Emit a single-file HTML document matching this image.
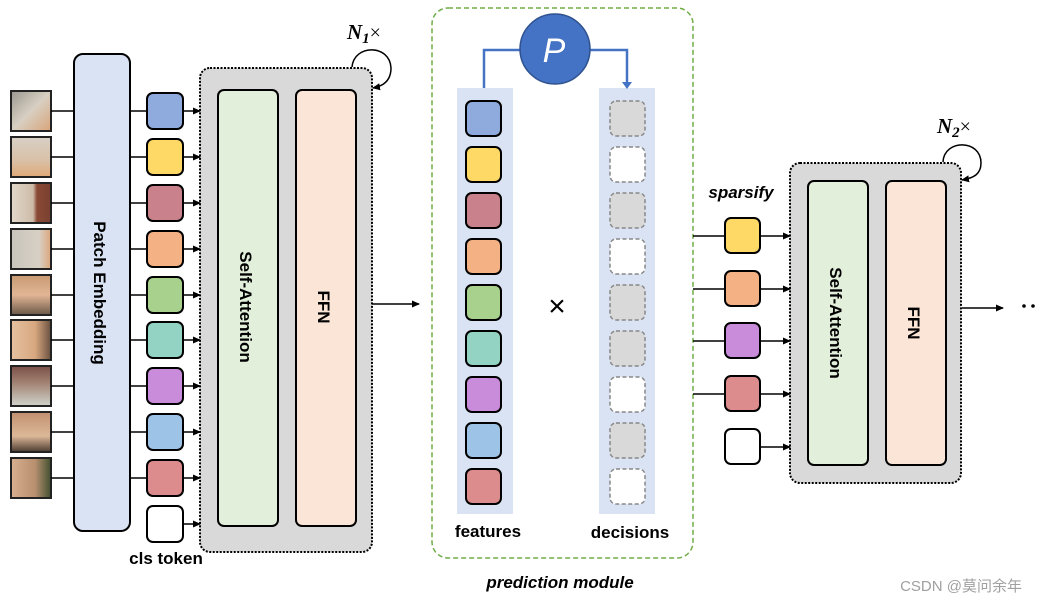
<!DOCTYPE html>
<html><head><meta charset="utf-8"><style>
html,body{margin:0;padding:0;background:#fff;}
svg{display:block;font-family:"Liberation Sans","Noto Sans CJK SC",sans-serif;}
</style></head><body>
<svg width="1037" height="599" viewBox="0 0 1037 599" xmlns="http://www.w3.org/2000/svg">
<defs>
<marker id="ah" markerWidth="8" markerHeight="8" refX="7" refY="4" orient="auto" markerUnits="userSpaceOnUse"><path d="M0,0.5 L8,4 L0,7.5 Z" fill="#000"/></marker>
<linearGradient id="g1" x1="0" y1="0" x2="1" y2="1"><stop offset="0" stop-color="#9a9890"/><stop offset="0.5" stop-color="#d8cfc2"/><stop offset="1" stop-color="#d9a47a"/></linearGradient>
<linearGradient id="g2" x1="0" y1="0" x2="0" y2="1"><stop offset="0" stop-color="#d8d0c6"/><stop offset="0.6" stop-color="#d9c0a6"/><stop offset="1" stop-color="#e0a878"/></linearGradient>
<linearGradient id="g3" x1="0" y1="0" x2="1" y2="0"><stop offset="0" stop-color="#e2d8ca"/><stop offset="0.55" stop-color="#cdbba8"/><stop offset="0.65" stop-color="#8a4a35"/><stop offset="1" stop-color="#7a4030"/></linearGradient>
<linearGradient id="g4" x1="0" y1="0" x2="1" y2="0"><stop offset="0" stop-color="#c8c4bc"/><stop offset="0.7" stop-color="#d8d0c4"/><stop offset="1" stop-color="#dba67c"/></linearGradient>
<linearGradient id="g5" x1="0" y1="0" x2="0" y2="1"><stop offset="0" stop-color="#c79a72"/><stop offset="0.5" stop-color="#e2b595"/><stop offset="1" stop-color="#6a5848"/></linearGradient>
<linearGradient id="g6" x1="0" y1="0" x2="1" y2="0"><stop offset="0" stop-color="#e4c0a0"/><stop offset="0.6" stop-color="#d8a880"/><stop offset="1" stop-color="#6a5040"/></linearGradient>
<linearGradient id="g7" x1="0" y1="0" x2="0" y2="1"><stop offset="0" stop-color="#7a5048"/><stop offset="0.4" stop-color="#a08070"/><stop offset="1" stop-color="#d0d4cc"/></linearGradient>
<linearGradient id="g8" x1="0" y1="0" x2="0" y2="1"><stop offset="0" stop-color="#c09070"/><stop offset="0.6" stop-color="#dcb898"/><stop offset="1" stop-color="#4a3a30"/></linearGradient>
<linearGradient id="g9" x1="0" y1="0" x2="1" y2="0"><stop offset="0" stop-color="#d8b090"/><stop offset="0.6" stop-color="#b89070"/><stop offset="1" stop-color="#405030"/></linearGradient>
</defs>

<g stroke="#222" stroke-width="2">
<rect x="11" y="91" width="40" height="40" fill="url(#g1)"/>
<rect x="11" y="137" width="40" height="40" fill="url(#g2)"/>
<rect x="11" y="183" width="40" height="40" fill="url(#g3)"/>
<rect x="11" y="229" width="40" height="40" fill="url(#g4)"/>
<rect x="11" y="275" width="40" height="40" fill="url(#g5)"/>
<rect x="11" y="320" width="40" height="40" fill="url(#g6)"/>
<rect x="11" y="366" width="40" height="40" fill="url(#g7)"/>
<rect x="11" y="412" width="40" height="40" fill="url(#g8)"/>
<rect x="11" y="458" width="40" height="40" fill="url(#g9)"/>
</g>
<g stroke="#000" stroke-width="1.5">
<line x1="51" y1="111" x2="74" y2="111"/><line x1="51" y1="157" x2="74" y2="157"/><line x1="51" y1="203" x2="74" y2="203"/>
<line x1="51" y1="249" x2="74" y2="249"/><line x1="51" y1="295" x2="74" y2="295"/><line x1="51" y1="340" x2="74" y2="340"/>
<line x1="51" y1="386" x2="74" y2="386"/><line x1="51" y1="432" x2="74" y2="432"/><line x1="51" y1="478" x2="74" y2="478"/>
</g>
<rect x="74" y="54" width="56" height="477" rx="9" fill="#dae3f3" stroke="#000" stroke-width="2"/>
<text transform="translate(94,293) rotate(90)" text-anchor="middle" font-size="17" font-weight="bold">Patch Embedding</text>

<rect x="200" y="68" width="172" height="484" rx="10" fill="#d9d9d9" stroke="#000" stroke-width="2" stroke-dasharray="2 1.5"/>
<rect x="218" y="90" width="60" height="436" rx="6" fill="#e2efda" stroke="#000" stroke-width="2"/>
<rect x="296" y="90" width="60" height="436" rx="6" fill="#fbe5d6" stroke="#000" stroke-width="2"/>
<text transform="translate(240,307) rotate(90)" text-anchor="middle" font-size="17" font-weight="bold">Self-Attention</text>
<text transform="translate(318,307) rotate(90)" text-anchor="middle" font-size="17" font-weight="bold">FFN</text>

<g stroke="#000" stroke-width="1.5">
<line x1="130" y1="111" x2="147" y2="111"/><line x1="130" y1="157" x2="147" y2="157"/><line x1="130" y1="203" x2="147" y2="203"/>
<line x1="130" y1="249" x2="147" y2="249"/><line x1="130" y1="295" x2="147" y2="295"/><line x1="130" y1="340" x2="147" y2="340"/>
<line x1="130" y1="386" x2="147" y2="386"/><line x1="130" y1="432" x2="147" y2="432"/><line x1="130" y1="478" x2="147" y2="478"/>
</g>
<g stroke="#000" stroke-width="2">
<rect x="147" y="93" width="36" height="36" rx="6" fill="#8faadc"/>
<rect x="147" y="139" width="36" height="36" rx="6" fill="#ffd966"/>
<rect x="147" y="185" width="36" height="36" rx="6" fill="#c9828c"/>
<rect x="147" y="231" width="36" height="36" rx="6" fill="#f4b183"/>
<rect x="147" y="277" width="36" height="36" rx="6" fill="#a9d18e"/>
<rect x="147" y="322" width="36" height="36" rx="6" fill="#93d3c4"/>
<rect x="147" y="368" width="36" height="36" rx="6" fill="#c98cdb"/>
<rect x="147" y="414" width="36" height="36" rx="6" fill="#9dc3e6"/>
<rect x="147" y="460" width="36" height="36" rx="6" fill="#dc8c8c"/>
<rect x="147" y="506" width="36" height="36" rx="6" fill="#fff"/>
</g>
<g stroke="#000" stroke-width="1.5" marker-end="url(#ah)">
<line x1="183" y1="111" x2="200" y2="111"/><line x1="183" y1="157" x2="200" y2="157"/><line x1="183" y1="203" x2="200" y2="203"/>
<line x1="183" y1="249" x2="200" y2="249"/><line x1="183" y1="295" x2="200" y2="295"/><line x1="183" y1="340" x2="200" y2="340"/>
<line x1="183" y1="386" x2="200" y2="386"/><line x1="183" y1="432" x2="200" y2="432"/><line x1="183" y1="478" x2="200" y2="478"/>
<line x1="183" y1="524" x2="200" y2="524"/>
</g>
<text x="166" y="564" text-anchor="middle" font-size="17" font-weight="bold">cls token</text>

<path d="M352,67 C354,44 390,44 391,68 C391,80 384,86 373,88" fill="none" stroke="#000" stroke-width="1.5" marker-end="url(#ah)"/>
<text x="347" y="39" font-family="Liberation Serif,serif" font-size="21" font-weight="bold" font-style="italic">N<tspan font-size="15" dy="4">1</tspan><tspan dy="-4" font-style="normal" font-weight="normal" font-size="20">×</tspan></text>

<line x1="372" y1="304" x2="419" y2="304" stroke="#000" stroke-width="1.5" marker-end="url(#ah)"/>

<rect x="432" y="8" width="261" height="550" rx="16" fill="none" stroke="#70ad47" stroke-width="1.5" stroke-dasharray="5 3"/>
<rect x="457" y="88" width="56" height="426" fill="#dae3f3"/>
<rect x="599" y="88" width="56" height="426" fill="#dae3f3"/>
<path d="M484,88 L484,50 L525,50" fill="none" stroke="#4472c4" stroke-width="2.5"/>
<path d="M585,50 L627,50 L627,84" fill="none" stroke="#4472c4" stroke-width="2.5"/>
<path d="M622,82 L632,82 L627,89 Z" fill="#4472c4"/>
<circle cx="555" cy="49" r="35" fill="#4472c4" stroke="#2f528f" stroke-width="1.5"/>
<text x="554" y="62" text-anchor="middle" font-size="34" fill="#fff" font-style="italic">P</text>

<g stroke="#000" stroke-width="2">
<rect x="466" y="101" width="35" height="35" rx="6" fill="#8faadc"/>
<rect x="466" y="147" width="35" height="35" rx="6" fill="#ffd966"/>
<rect x="466" y="193" width="35" height="35" rx="6" fill="#c9828c"/>
<rect x="466" y="239" width="35" height="35" rx="6" fill="#f4b183"/>
<rect x="466" y="285" width="35" height="35" rx="6" fill="#a9d18e"/>
<rect x="466" y="331" width="35" height="35" rx="6" fill="#93d3c4"/>
<rect x="466" y="377" width="35" height="35" rx="6" fill="#c98cdb"/>
<rect x="466" y="423" width="35" height="35" rx="6" fill="#9dc3e6"/>
<rect x="466" y="469" width="35" height="35" rx="6" fill="#dc8c8c"/>
</g>
<g stroke="#888" stroke-width="1.5" stroke-dasharray="4 2.5">
<rect x="610" y="101" width="35" height="35" rx="6" fill="#d9d9d9"/>
<rect x="610" y="147" width="35" height="35" rx="6" fill="#fff"/>
<rect x="610" y="193" width="35" height="35" rx="6" fill="#d9d9d9"/>
<rect x="610" y="239" width="35" height="35" rx="6" fill="#fff"/>
<rect x="610" y="285" width="35" height="35" rx="6" fill="#d9d9d9"/>
<rect x="610" y="331" width="35" height="35" rx="6" fill="#d9d9d9"/>
<rect x="610" y="377" width="35" height="35" rx="6" fill="#fff"/>
<rect x="610" y="423" width="35" height="35" rx="6" fill="#d9d9d9"/>
<rect x="610" y="469" width="35" height="35" rx="6" fill="#fff"/>
</g>
<text x="557" y="316" text-anchor="middle" font-size="30">×</text>
<text x="488" y="537" text-anchor="middle" font-size="17" font-weight="bold">features</text>
<text x="630" y="538" text-anchor="middle" font-size="17" font-weight="bold">decisions</text>
<text x="560" y="588" text-anchor="middle" font-size="17" font-weight="bold" font-style="italic">prediction module</text>

<text x="741" y="198" text-anchor="middle" font-size="17" font-weight="bold" font-style="italic">sparsify</text>
<g stroke="#000" stroke-width="1.5">
<line x1="693" y1="236" x2="725" y2="236"/><line x1="693" y1="289" x2="725" y2="289"/>
<line x1="693" y1="341" x2="725" y2="341"/><line x1="693" y1="394" x2="725" y2="394"/>
</g>
<rect x="790" y="163" width="171" height="320" rx="10" fill="#d9d9d9" stroke="#000" stroke-width="2" stroke-dasharray="2 1.5"/>
<rect x="808" y="181" width="60" height="284" rx="6" fill="#e2efda" stroke="#000" stroke-width="2"/>
<rect x="886" y="181" width="60" height="284" rx="6" fill="#fbe5d6" stroke="#000" stroke-width="2"/>
<text transform="translate(830,323) rotate(90)" text-anchor="middle" font-size="17" font-weight="bold">Self-Attention</text>
<text transform="translate(908,323) rotate(90)" text-anchor="middle" font-size="17" font-weight="bold">FFN</text>
<g stroke="#000" stroke-width="2">
<rect x="725" y="218" width="35" height="35" rx="6" fill="#ffd966"/>
<rect x="725" y="271" width="35" height="35" rx="6" fill="#f4b183"/>
<rect x="725" y="323" width="35" height="35" rx="6" fill="#c98cdb"/>
<rect x="725" y="376" width="35" height="35" rx="6" fill="#dc8c8c"/>
<rect x="725" y="429" width="35" height="35" rx="6" fill="#fff"/>
</g>
<g stroke="#000" stroke-width="1.5" marker-end="url(#ah)">
<line x1="760" y1="236" x2="790" y2="236"/><line x1="760" y1="289" x2="790" y2="289"/>
<line x1="760" y1="341" x2="790" y2="341"/><line x1="760" y1="394" x2="790" y2="394"/>
<line x1="760" y1="447" x2="790" y2="447"/>
</g>
<path d="M943,162 C944,139 981,139 981,163 C981,174 974,178 962,180" fill="none" stroke="#000" stroke-width="1.5" marker-end="url(#ah)"/>
<text x="937" y="133" font-family="Liberation Serif,serif" font-size="21" font-weight="bold" font-style="italic">N<tspan font-size="15" dy="4">2</tspan><tspan dy="-4" font-style="normal" font-weight="normal" font-size="20">×</tspan></text>
<line x1="962" y1="308" x2="1003" y2="308" stroke="#000" stroke-width="1.5" marker-end="url(#ah)"/>
<circle cx="1024" cy="306" r="1.8" fill="#000"/><circle cx="1033" cy="306" r="1.8" fill="#000"/>

<text x="1022" y="591" text-anchor="end" font-size="15" fill="#a0a0a0">CSDN @莫问余年</text>
</svg>
</body></html>
